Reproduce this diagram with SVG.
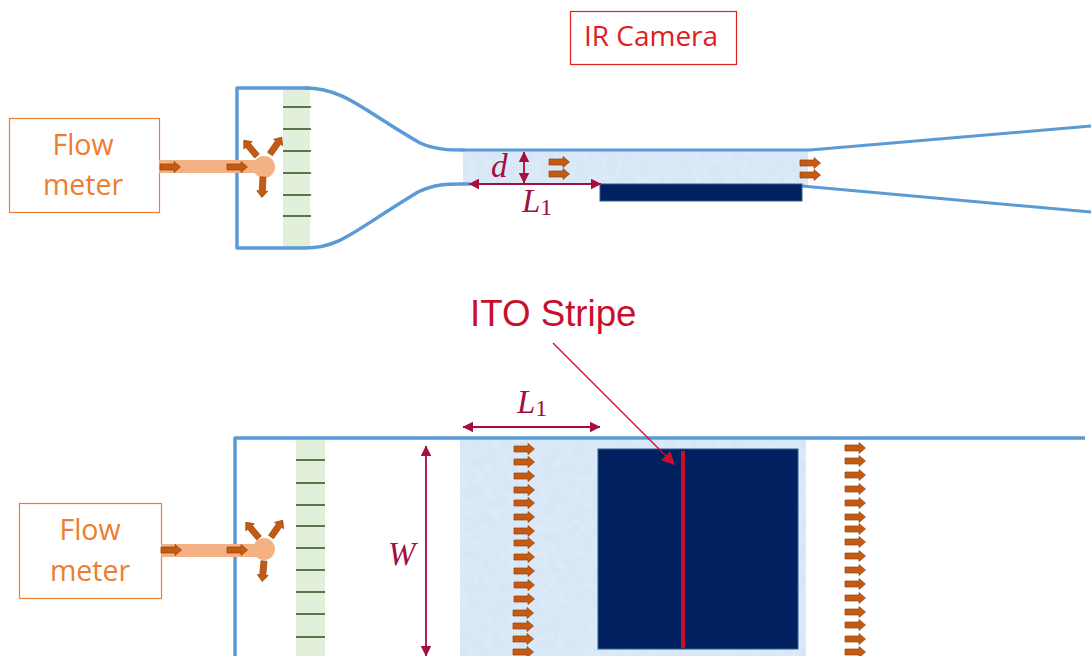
<svg xmlns="http://www.w3.org/2000/svg" xmlns:xlink="http://www.w3.org/1999/xlink" width="1091" height="656" viewBox="0 0 1091 656">
<style>
.box{fill:#fff;stroke:#ED7D31;stroke-width:1.2}
.flow{font:28.500px "Open Sans","Noto Sans",sans-serif;fill:#ED7D31;text-anchor:middle}
.wall{fill:none;stroke:#5B9BD5;stroke-width:3.500;stroke-linejoin:round}
.thin{stroke-width:3}
.tick{stroke:#2f4f1c;stroke-width:1.400}
.green{fill:#E2EFDA}
.pipe{fill:#F4B183}
.glass{fill:#D8E7F6}
.navy{fill:#002060;stroke:#2E5F8F;stroke-width:1}
.dim{stroke:#A50E3F;stroke-width:1.800;fill:none;marker-start:url(#dh);marker-end:url(#dh)}
.math{font:italic 33px "Liberation Serif",serif;fill:#A01040}
.sub{font-style:normal;font-size:24px}
</style>
<defs>
<marker id="dh" viewBox="0 0 10 10" refX="9.500" refY="5" markerWidth="11" markerHeight="11" markerUnits="userSpaceOnUse" orient="auto-start-reverse"><path d="M0,0L10,5L0,10Z" fill="#A50E3F"/></marker>
<marker id="rh" viewBox="0 0 10 10" refX="9" refY="5" markerWidth="14" markerHeight="13" markerUnits="userSpaceOnUse" orient="auto"><path d="M0,0L10,5L0,10Z" fill="#C8102E"/></marker>
<path id="a" d="M0,-3H14V-5.500L20.500,0L14,5.500V3H0Z" fill="#C55A11" stroke="#8f4410" stroke-width=".7"/>
<filter id="tex" x="0" y="0" width="100%" height="100%"><feTurbulence type="fractalNoise" baseFrequency=".12" numOctaves="3" seed="4"/><feColorMatrix values="0 0 0 0 .72  0 0 0 0 .83  0 0 0 0 .95  1.600 1.600 0 0 -1.300"/><feComposite in2="SourceGraphic" operator="in" result="n"/><feMerge><feMergeNode in="SourceGraphic"/><feMergeNode in="n"/></feMerge></filter>
</defs>
<rect width="1091" height="656" fill="#fff"/>

<g id="ir-camera"><rect x="570.500" y="11.500" width="166" height="53" fill="#fff" stroke="#E0201C" stroke-width="1.200"/><text x="651" y="46" text-anchor="middle" style="font:28px 'Open Sans','Noto Sans',sans-serif;fill:#E0201C">IR Camera</text></g>

<g id="top-channel">
<rect class="glass" x="463" y="150" width="345" height="35" filter="url(#tex)"/>
<rect class="green" x="283" y="89" width="27" height="158"/>
<path class="tick" d="M283,107H311M283,129H311M283,151H311M283,173H311M283,195H311M283,216H311"/>
<path class="wall" d="M310,88H237V248H305C340,248 352,232 418,192C436,183 450,184 470,184"/>
<path class="wall" d="M305,88C345,88 365,112 420,143C436,150 450,150 465,150"/>
<path class="wall thin" d="M465,150H810L1091,126"/>
<path class="wall thin" d="M802,186L1091,212"/>
<rect class="navy" x="600" y="184" width="202" height="17"/>
</g>

<g id="flow-meter-top">
<rect class="box" x="9.500" y="118.500" width="150" height="94"/>
<text class="flow" x="83" y="155">Flow</text><text class="flow" x="83" y="195">meter</text>
</g>
<g id="injector-top">
<rect class="pipe" x="159" y="160" width="100" height="13"/><circle class="pipe" cx="264" cy="167" r="11"/>
<use href="#a" transform="translate(160,167)"/><use href="#a" transform="translate(227,167)"/>
<use href="#a" transform="translate(257,156) rotate(-130)"/><use href="#a" transform="translate(270,154) rotate(-55)"/><use href="#a" transform="translate(263,177) rotate(93)"/>
</g>

<g id="bottom-channel">
<rect class="glass" x="460" y="440" width="346" height="216" filter="url(#tex)"/>
<rect class="green" x="296" y="440" width="29" height="216"/>
<path class="tick" d="M296,460H325M296,483H325M296,505H325M296,526H325M296,548H325M296,570H325M296,592H325M296,614H325M296,637H325"/>
<path class="wall" d="M235,656V438H1085"/>
<rect class="navy" x="598" y="449" width="200" height="200"/>
<rect x="681" y="451" width="4" height="197" fill="#C8102E"/>
</g>

<g id="flow-meter-bottom">
<rect class="box" x="19.500" y="503.500" width="142" height="95"/>
<text class="flow" x="90" y="540">Flow</text><text class="flow" x="90" y="581">meter</text>
</g>
<g id="injector-bottom">
<rect class="pipe" x="161" y="544" width="98" height="13"/><circle class="pipe" cx="264" cy="549" r="11"/>
<use href="#a" transform="translate(161,550)"/><use href="#a" transform="translate(227,550)"/>
<use href="#a" transform="translate(259,538) rotate(-130)"/><use href="#a" transform="translate(271,537) rotate(-55)"/><use href="#a" transform="translate(264,561) rotate(95)"/>
</g>

<g id="flow-arrows">
<use href="#a" transform="translate(549,162)"/><use href="#a" transform="translate(549,174)"/>
<use href="#a" transform="translate(800,163)"/><use href="#a" transform="translate(800,175)"/>
<use href="#a" transform="translate(514,449)"/><use href="#a" transform="translate(514,462)"/><use href="#a" transform="translate(514,476)"/><use href="#a" transform="translate(514,490)"/><use href="#a" transform="translate(514,503)"/><use href="#a" transform="translate(514,517)"/><use href="#a" transform="translate(514,531)"/><use href="#a" transform="translate(514,543)"/><use href="#a" transform="translate(514,557)"/><use href="#a" transform="translate(514,571)"/><use href="#a" transform="translate(514,585)"/><use href="#a" transform="translate(514,599)"/><use href="#a" transform="translate(513,613)"/><use href="#a" transform="translate(513,626)"/><use href="#a" transform="translate(513,639)"/><use href="#a" transform="translate(513,652)"/>
<use href="#a" transform="translate(845,448)"/><use href="#a" transform="translate(845,461)"/><use href="#a" transform="translate(845,475)"/><use href="#a" transform="translate(845,489)"/><use href="#a" transform="translate(845,503)"/><use href="#a" transform="translate(845,517)"/><use href="#a" transform="translate(845,529)"/><use href="#a" transform="translate(845,542)"/><use href="#a" transform="translate(845,556)"/><use href="#a" transform="translate(845,570)"/><use href="#a" transform="translate(845,584)"/><use href="#a" transform="translate(845,598)"/><use href="#a" transform="translate(845,612)"/><use href="#a" transform="translate(845,625)"/><use href="#a" transform="translate(845,639)"/><use href="#a" transform="translate(845,652)"/>
</g>

<g id="connectors">
<path class="dim" d="M469,184H601"/>
<path class="dim" d="M524,152V183"/>
<path class="dim" d="M463,427H600"/>
<path class="dim" d="M426,446V656"/>
<path d="M553,343L674,464" fill="none" stroke="#C8102E" stroke-width="1.300" marker-end="url(#rh)"/>
</g>

<g id="labels">
<text class="math" x="491" y="177">d</text>
<text class="math" x="522" y="212">L<tspan class="sub" dy="3">1</tspan></text>
<text class="math" x="517" y="413">L<tspan class="sub" dy="3">1</tspan></text>
<text class="math" x="388" y="565">W</text>
<text x="470" y="326" style="font:36.700px 'Liberation Sans',sans-serif;fill:#C8102E">ITO Stripe</text>
</g>
</svg>
